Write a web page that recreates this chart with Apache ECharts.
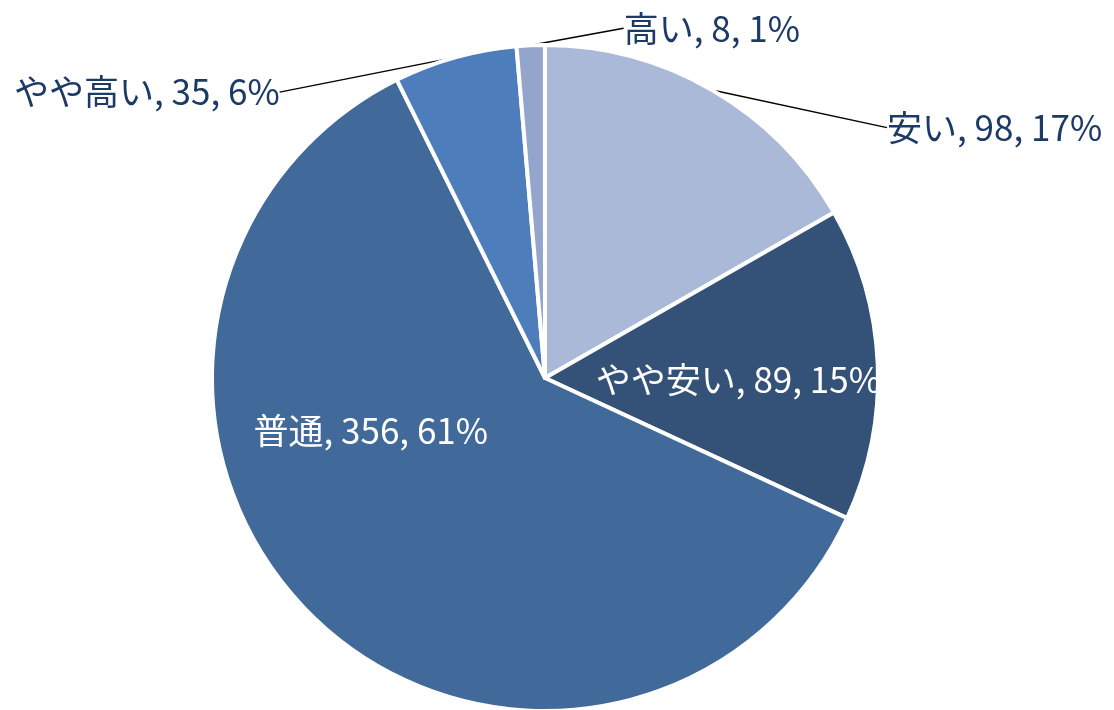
<!DOCTYPE html>
<html>
<head>
<meta charset="utf-8">
<script src="https://cdn.jsdelivr.net/npm/echarts@6/dist/echarts.min.js"></script>
<style>
html,body{margin:0;padding:0;background:#fff;}
#chart{width:1114px;height:710px;}
</style>
</head>
<body>
<div id="chart"></div>
<script>
const categories = ['安い', 'やや安い', '普通', 'やや高い', '高い'];
const values = [98, 89, 356, 35, 8];
const percents = ['17%', '15%', '61%', '6%', '1%'];
const colors = ['#aab9d7', '#345178', '#41699a', '#4d7ebb', '#93a5ca'];

const insideIdx = [1, 2];
// label shifts relative to default label anchor (layout only)
const shifts = {0: [160, 55], 1: [24, 9], 2: [-56, -69], 3: [-165, 54], 4: [275, 3]};

const chart = echarts.init(document.getElementById('chart'));
const data = categories.map((c, i) => ({
  name: c,
  value: values[i],
  itemStyle: { color: colors[i] },
  label: insideIdx.includes(i)
    ? { position: 'inside', color: '#ffffff' }
    : { position: 'outside', color: '#1b3a66' },
  labelLine: { show: !insideIdx.includes(i) }
}));

chart.setOption({
  animation: false,
  series: [{
    type: 'pie',
    center: [545, 378],
    radius: [0, 333],
    startAngle: 90,
    clockwise: true,
    avoidLabelOverlap: false,
    data: data,
    itemStyle: { borderColor: '#ffffff', borderWidth: 4 },
    label: {
      fontFamily: '"Noto Sans CJK JP", sans-serif',
      fontSize: 35,
      formatter: p => p.name + ', ' + p.value + ', ' + percents[p.dataIndex]
    },
    labelLine: {
      length: 20, length2: 0,
      lineStyle: { color: '#000000', width: 1.5 }
    },
    labelLayout: function (params) {
      const s = shifts[params.dataIndex];
      const r = params.labelRect;
      const al = params.align || 'center';
      const ax = al === 'right' ? r.x + r.width : (al === 'left' ? r.x : r.x + r.width / 2);
      return {
        x: ax + s[0],
        y: r.y + r.height / 2 + s[1],
        align: al,
        verticalAlign: 'middle'
      };
    }
  }]
});
</script>
</body>
</html>
